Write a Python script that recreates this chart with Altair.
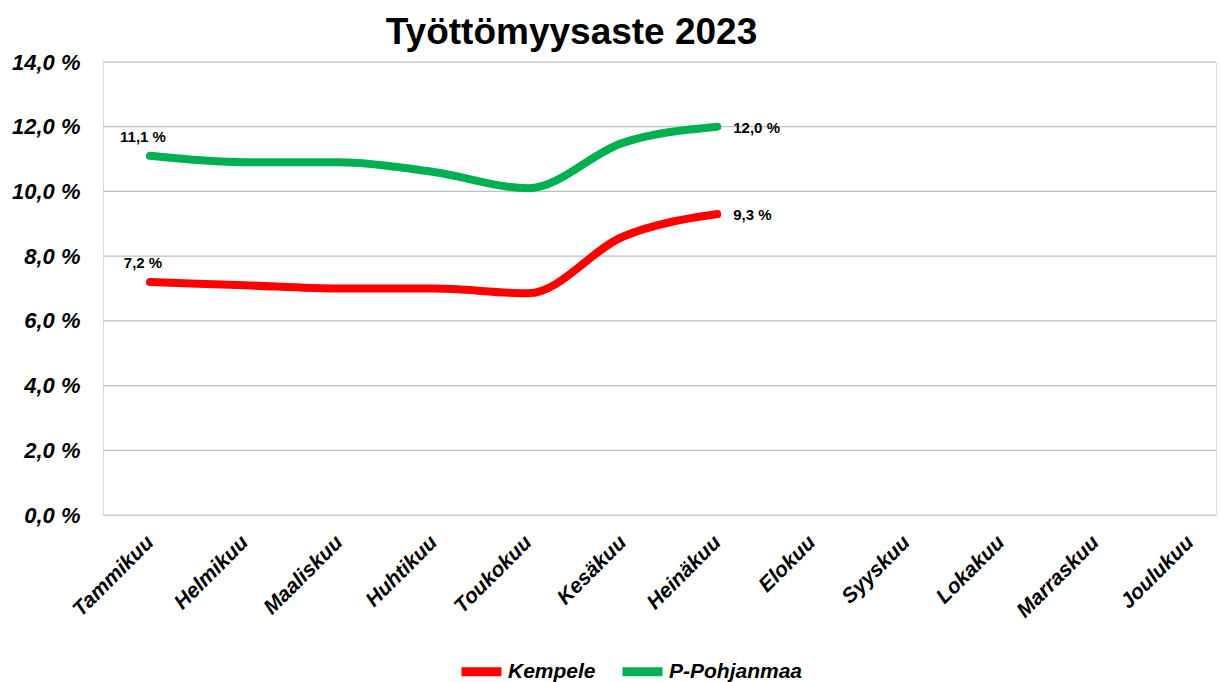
import altair as alt
import pandas as pd

months = ["Tammikuu", "Helmikuu", "Maaliskuu", "Huhtikuu", "Toukokuu", "Kesäkuu",
          "Heinäkuu", "Elokuu", "Syyskuu", "Lokakuu", "Marraskuu", "Joulukuu"]
kempele = [7.2, 7.1, 7.0, 7.0, 6.85, 8.6, 9.3]
pohjanmaa = [11.1, 10.9, 10.9, 10.6, 10.1, 11.5, 12.0]
series_names = ["Kempele", "P-Pohjanmaa"]
series_colors = ["#FF0000", "#00B050"]
y_ticks = [0, 2, 4, 6, 8, 10, 12, 14]

rows = []
for name, vals in zip(series_names, [kempele, pohjanmaa]):
    for i, v in enumerate(vals):
        pos = "first" if i == 0 else ("last" if i == len(vals) - 1 else "mid")
        rows.append({"kk": months[i], "sarja": name, "arvo": v, "pos": pos,
                     "lbl": f"{v:.1f}".replace(".", ",") + " %"})
df = pd.DataFrame(rows)
grid_df = pd.DataFrame({"arvo": y_ticks})

FONT = "Liberation Sans"

x_enc = alt.X("kk:N", sort=months, scale=alt.Scale(domain=months, type="point", padding=0, range=[47, 1087]),
              axis=alt.Axis(title=None, labelAngle=-45, labelAlign="right", labelBaseline="middle",
                            labelPadding=24, labelFontSize=21, labelFont=FONT, labelFontWeight="bold",
                            labelFontStyle="italic", labelColor="black", ticks=False, domain=False,
                            grid=False, labelOverlap=False))
y_enc = alt.Y("arvo:Q", scale=alt.Scale(domain=[0, 14]),
              axis=alt.Axis(title=None, values=y_ticks,
                            labelExpr="replace(format(datum.value, '.1f'), '.', ',') + ' %'",
                            labelFontSize=22, labelFont=FONT, labelFontWeight="bold",
                            labelFontStyle="italic", labelColor="black", labelPadding=23,
                            ticks=False, domain=False, grid=False))

color_enc = alt.Color("sarja:N", scale=alt.Scale(domain=series_names, range=series_colors),
                      legend=alt.Legend(title=None, orient="none", direction="horizontal",
                                        legendX=354, legendY=585, symbolType="stroke",
                                        symbolSize=1600, symbolStrokeWidth=9, labelFontSize=21,
                                        labelFont=FONT, labelFontWeight="bold", labelFontStyle="italic",
                                        labelColor="black", columnPadding=8, labelOffset=2, padding=0))

grid = alt.Chart(grid_df).mark_rule(color="#BFBFBF", strokeWidth=1.2).encode(
    y=alt.Y("arvo:Q"), x=alt.value(0), x2=alt.value(1113))

base = alt.Chart(df)
lines = base.mark_line(strokeWidth=8, interpolate="monotone", strokeCap="round").encode(
    x=x_enc, y=y_enc, color=color_enc)

first = base.transform_filter("datum.pos == 'first'").mark_text(
    fontSize=15, font=FONT, fontWeight="bold", dx=-7, dy=-19, align="center", color="black"
).encode(x=alt.X("kk:N", sort=months), y="arvo:Q", text="lbl:N")

last = base.transform_filter("datum.pos == 'last'").mark_text(
    fontSize=15, font=FONT, fontWeight="bold", dx=16, dy=1, align="left", color="black"
).encode(x=alt.X("kk:N", sort=months), y="arvo:Q", text="lbl:N")

chart = alt.layer(grid, lines, first, last).properties(
    width=1113, height=453,
    title=alt.TitleParams("Työttömyysaste 2023", fontSize=37, font=FONT, fontWeight="bold",
                          color="black", anchor="middle", dx=-88, dy=48, baseline="bottom", offset=10),
    autosize=alt.AutoSizeParams(type="none"),
    padding={"left": 103, "top": 62, "right": 5, "bottom": 167},
).configure_view(stroke=None).configure(background="white")

chart.save("out.html", embed_options={"renderer": "svg", "actions": False})
